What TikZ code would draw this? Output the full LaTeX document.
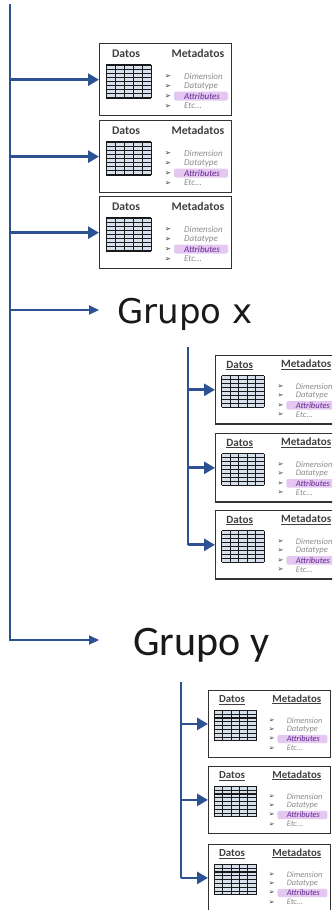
\documentclass[tikz,border=0pt]{standalone}
\usepackage{fontspec}
\setmainfont{Carlito}
\newfontfamily\dejavu{DejaVu Sans}
\usetikzlibrary{arrows.meta}
\definecolor{navy}{RGB}{44,82,148}
\definecolor{hdrgray}{RGB}{64,64,64}
\definecolor{itemgray}{RGB}{140,140,140}
\definecolor{lav}{RGB}{228,200,242}
\definecolor{purp}{RGB}{100,40,140}
\definecolor{gridfill}{RGB}{215,225,238}
\tikzset{
  mainline/.style={draw=navy, line width=2.8pt, line cap=rect},
  subline/.style={draw=navy, line width=2.6pt},
  tobox/.style={draw=navy, line width=2.8pt, -{Triangle[length=11pt,width=12pt]}},
  togroup/.style={draw=navy, line width=2.2pt, -{Triangle[length=10pt,width=9pt]}},
  metabox/.style={draw=black!80, line width=1.3pt, fill=white, inner sep=0pt,
    minimum width=132pt, minimum height=72pt, anchor=north west},
  hdr/.style={font=\bfseries\fontsize{11.7}{13}\selectfont, text=hdrgray, inner sep=0pt},
  item/.style={font=\itshape\fontsize{9}{10}\selectfont, text=itemgray, inner sep=0pt, anchor=west},
  bul/.style={font=\dejavu\fontsize{7.5}{7.5}\selectfont, text=black!80, inner sep=0pt},
  grupo/.style={inner sep=0pt, anchor=base west, text=black!90},
  gridline/.style={draw=black!90, line width=1.1pt},
}
% #1 name, #2 left, #3 top, #4 scale, #5 underline (0/1)
\newcommand\metaboxdraw[5]{%
\begin{scope}[shift={(#2,#3)}, scale=#4, every node/.append style={scale=#4}]
  \node[metabox] (#1) at (0,0) {};
  \ifnum#5=1
    \node[hdr] (#1-d) at (26,11) {\underline{Datos}};
    \node[hdr] (#1-m) at (96,10) {\underline{Metadatos}};
  \else
    \node[hdr] (#1-d) at (27,11) {Datos};
    \node[hdr] (#1-m) at (99,10) {Metadatos};
  \fi
  \fill[gridfill] (7,22) rectangle (52,55);
  \foreach \i in {0,...,8} \draw[gridline] (7,22+\i*4.125) -- (52,22+\i*4.125);
  \foreach \j in {0,...,5} \draw[gridline, line width=1pt] (7+\j*9,22) -- (7+\j*9,55);
  \fill[lav, rounded corners=2pt] (75,48.5) rectangle (129,57.5);
  \foreach \yy [count=\k] in {33,43,53,63} \node[bul] (#1-b\k) at (69,\yy) {➢};
  \node[item] (#1-i1) at (85,33) {Dimension};
  \node[item] (#1-i2) at (85,43) {Datatype};
  \node[item, text=purp] (#1-i3) at (85,53) {Attributes};
  \node[item] (#1-i4) at (85,63) {Etc...};
\end{scope}}
\begin{document}
\begin{tikzpicture}[x=1pt, y=-1pt]
\useasboundingbox (0,0) rectangle (332,910);
\clip (0,0) rectangle (332,910);
% first-level boxes
\metaboxdraw{a1}{99}{43}{1}{0}
\metaboxdraw{a2}{99}{120}{1}{0}
\metaboxdraw{a3}{99}{196}{1}{0}
% group x boxes
\metaboxdraw{x1}{215}{355}{0.95}{1}
\metaboxdraw{x2}{215}{433}{0.95}{1}
\metaboxdraw{x3}{215}{510}{0.95}{1}
% group y boxes
\metaboxdraw{y1}{208}{690}{0.925}{1}
\metaboxdraw{y2}{208}{766}{0.925}{1}
\metaboxdraw{y3}{208}{844}{0.925}{1}
% group labels
\node[grupo, font=\dejavu\fontsize{34}{40}\selectfont] (gx) at (117,323) {Grupo x};
\node[grupo, font=\fontsize{42}{48}\selectfont] (gy) at (133,655) {Grupo y};
\coordinate (m0) at (10,5);
\coordinate (gxin) at (99,310);
\coordinate (gyin) at (99,640);
\coordinate (sx) at (188,347);
\coordinate (sy) at (181,682);
% main line
\draw[mainline] (m0) -- (m0 |- gyin);
\foreach \b in {a1,a2,a3} \draw[tobox] (m0 |- \b.west) -- (\b.west);
\draw[togroup] (m0 |- gxin) -- (gxin);
\draw[togroup] (m0 |- gyin) -- (gyin);
% group x
\draw[subline] (sx) -- (sx |- x3.west);
\foreach \b in {x1,x2,x3} \draw[tobox] (sx |- \b.west) -- (\b.west);
% group y
\draw[subline] (sy) -- (sy |- y3.west);
\foreach \b in {y1,y2,y3} \draw[tobox] (sy |- \b.west) -- (\b.west);
\end{tikzpicture}
\end{document}
